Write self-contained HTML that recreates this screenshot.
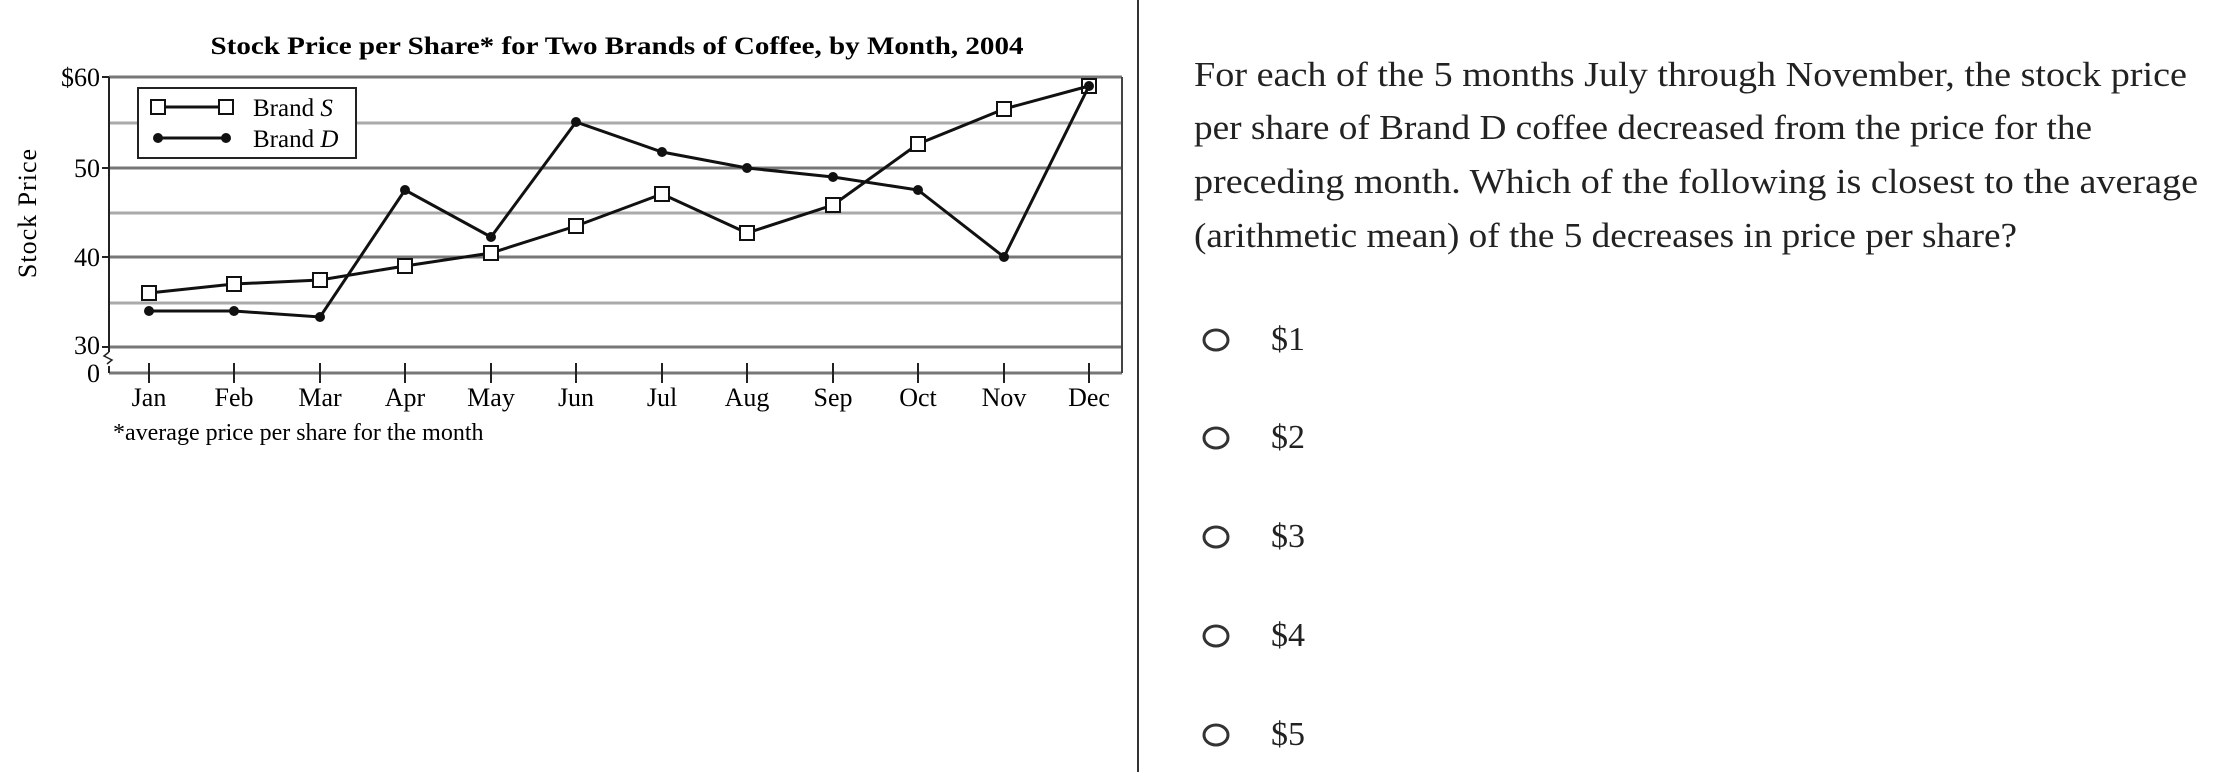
<!DOCTYPE html>
<html><head><meta charset="utf-8"><style>
html,body{margin:0;padding:0;background:#fff;}
svg{display:block;}
</style></head><body>
<svg width="2220" height="772" viewBox="0 0 2220 772" xmlns="http://www.w3.org/2000/svg" font-family="Liberation Serif, serif">
<rect width="2220" height="772" fill="#fff"/>
<text x="617" y="54" text-anchor="middle" font-weight="bold" font-size="25" textLength="813" lengthAdjust="spacingAndGlyphs">Stock Price per Share* for Two Brands of Coffee, by Month, 2004</text>
<g stroke="#aaa" stroke-width="3">
<line x1="109" y1="123" x2="1122" y2="123"/>
<line x1="109" y1="213" x2="1122" y2="213"/>
<line x1="109" y1="303" x2="1122" y2="303"/>
</g>
<g stroke="#777" stroke-width="3">
<line x1="109" y1="77" x2="1122" y2="77"/>
<line x1="109" y1="168" x2="1122" y2="168"/>
<line x1="109" y1="257" x2="1122" y2="257"/>
<line x1="109" y1="347" x2="1122" y2="347"/>
<line x1="109" y1="373" x2="1122" y2="373"/>
</g>
<line x1="1122" y1="77" x2="1122" y2="373" stroke="#444" stroke-width="2"/>
<line x1="109" y1="77" x2="109" y2="352" stroke="#222" stroke-width="2"/>
<line x1="109" y1="366" x2="109" y2="373" stroke="#222" stroke-width="2"/>
<path d="M109 352 l-5 4 l8 4 l-5 4" fill="none" stroke="#222" stroke-width="1.5"/>
<g stroke="#222" stroke-width="2">
<line x1="102" y1="77" x2="109" y2="77"/><line x1="102" y1="168" x2="109" y2="168"/>
<line x1="102" y1="257" x2="109" y2="257"/><line x1="102" y1="347" x2="109" y2="347"/>
</g>
<g font-size="26" text-anchor="end">
<text x="100" y="86">$60</text><text x="100" y="177">50</text><text x="100" y="266">40</text><text x="100" y="354">30</text><text x="100" y="382">0</text>
</g>
<text transform="translate(36,213) rotate(-90)" text-anchor="middle" font-size="26" letter-spacing="1">Stock Price</text>
<g font-size="26" text-anchor="middle">
<text x="149" y="406">Jan</text><text x="234" y="406">Feb</text><text x="320" y="406">Mar</text><text x="405" y="406">Apr</text><text x="491" y="406">May</text><text x="576" y="406">Jun</text><text x="662" y="406">Jul</text><text x="747" y="406">Aug</text><text x="833" y="406">Sep</text><text x="918" y="406">Oct</text><text x="1004" y="406">Nov</text><text x="1089" y="406">Dec</text>
</g>
<g stroke="#222" stroke-width="2">
<line x1="149" y1="363" x2="149" y2="383"/><line x1="234" y1="363" x2="234" y2="383"/><line x1="320" y1="363" x2="320" y2="383"/><line x1="405" y1="363" x2="405" y2="383"/><line x1="491" y1="363" x2="491" y2="383"/><line x1="576" y1="363" x2="576" y2="383"/><line x1="662" y1="363" x2="662" y2="383"/><line x1="747" y1="363" x2="747" y2="383"/><line x1="833" y1="363" x2="833" y2="383"/><line x1="918" y1="363" x2="918" y2="383"/><line x1="1004" y1="363" x2="1004" y2="383"/><line x1="1089" y1="363" x2="1089" y2="383"/>
</g>
<text x="113" y="440" font-size="24">*average price per share for the month</text>
<polyline fill="none" stroke="#111" stroke-width="3" points="149,311 234,311 320,317 405,190 491,237 576,122 662,152 747,168 833,177 918,190 1004,257 1089,86"/>
<g fill="#111">
<circle cx="149" cy="311" r="5"/><circle cx="234" cy="311" r="5"/><circle cx="320" cy="317" r="5"/><circle cx="405" cy="190" r="5"/><circle cx="491" cy="237" r="5"/><circle cx="576" cy="122" r="5"/><circle cx="662" cy="152" r="5"/><circle cx="747" cy="168" r="5"/><circle cx="833" cy="177" r="5"/><circle cx="918" cy="190" r="5"/><circle cx="1004" cy="257" r="5"/><circle cx="1089" cy="86" r="5"/>
</g>
<polyline fill="none" stroke="#111" stroke-width="3" points="149,293 234,284 320,280 405,266 491,253 576,226 662,194 747,233 833,205 918,144 1004,109 1089,86"/>
<g fill="#fff" stroke="#111" stroke-width="2">
<rect x="142" y="286" width="14" height="14"/><rect x="227" y="277" width="14" height="14"/><rect x="313" y="273" width="14" height="14"/><rect x="398" y="259" width="14" height="14"/><rect x="484" y="246" width="14" height="14"/><rect x="569" y="219" width="14" height="14"/><rect x="655" y="187" width="14" height="14"/><rect x="740" y="226" width="14" height="14"/><rect x="826" y="198" width="14" height="14"/><rect x="911" y="137" width="14" height="14"/><rect x="997" y="102" width="14" height="14"/><rect x="1082" y="79" width="14" height="14" fill="none"/>
</g>
<circle cx="1089" cy="86" r="4" fill="#111"/>
<rect x="138" y="88" width="218" height="70" fill="#fff" stroke="#222" stroke-width="2"/>
<line x1="156" y1="107" x2="226" y2="107" stroke="#111" stroke-width="3"/>
<rect x="151" y="100" width="14" height="14" fill="#fff" stroke="#111" stroke-width="2"/>
<rect x="219" y="100" width="14" height="14" fill="#fff" stroke="#111" stroke-width="2"/>
<line x1="156" y1="138" x2="226" y2="138" stroke="#111" stroke-width="3"/>
<circle cx="158" cy="138" r="5" fill="#111"/><circle cx="226" cy="138" r="5" fill="#111"/>
<text x="253" y="116" font-size="25">Brand <tspan font-style="italic">S</tspan></text>
<text x="253" y="147" font-size="25">Brand <tspan font-style="italic">D</tspan></text>
<line x1="1138" y1="0" x2="1138" y2="772" stroke="#333" stroke-width="2"/>
<g font-size="35" fill="#222">
<text x="1194" y="86" textLength="993" lengthAdjust="spacingAndGlyphs">For each of the 5 months July through November, the stock price</text>
<text x="1194" y="139" textLength="898" lengthAdjust="spacingAndGlyphs">per share of Brand D coffee decreased from the price for the</text>
<text x="1194" y="193" textLength="1004" lengthAdjust="spacingAndGlyphs">preceding month. Which of the following is closest to the average</text>
<text x="1194" y="247" textLength="823" lengthAdjust="spacingAndGlyphs">(arithmetic mean) of the 5 decreases in price per share?</text>
</g>
<g fill="none" stroke="#333" stroke-width="3">
<ellipse cx="1216" cy="340" rx="12" ry="10"/>
<ellipse cx="1216" cy="438" rx="12" ry="10"/>
<ellipse cx="1216" cy="537" rx="12" ry="10"/>
<ellipse cx="1216" cy="636" rx="12" ry="10"/>
<ellipse cx="1216" cy="735" rx="12" ry="10"/>
</g>
<g font-size="34" fill="#222">
<text x="1271" y="350">$1</text>
<text x="1271" y="448">$2</text>
<text x="1271" y="547">$3</text>
<text x="1271" y="646">$4</text>
<text x="1271" y="745">$5</text>
</g>
</svg>
</body></html>
